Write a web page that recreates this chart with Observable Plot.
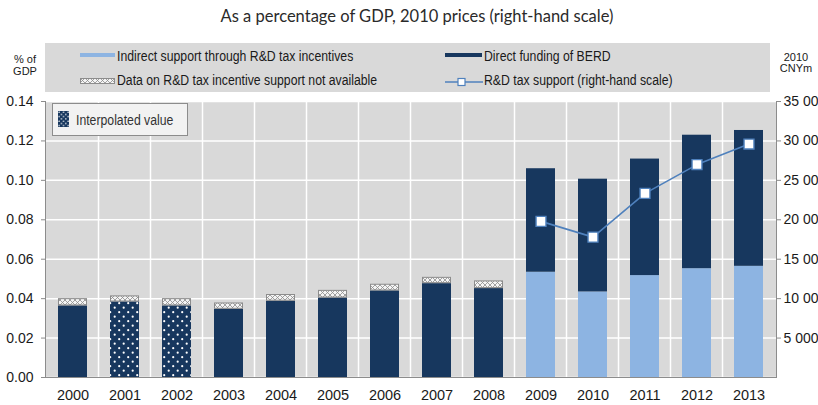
<!DOCTYPE html>
<html><head><meta charset="utf-8">
<script src="https://cdn.jsdelivr.net/npm/d3@7"></script>
<script src="https://cdn.jsdelivr.net/npm/@observablehq/plot@0.6"></script>
<style>
body{margin:0;background:#fff;width:818px;height:405px;overflow:hidden;font-family:"Liberation Sans",Arial,sans-serif;}
#title{height:40px;position:relative;}
#title span{position:absolute;left:417px;top:6px;transform:translateX(-50%);white-space:nowrap;font-family:Lato,"Open Sans",sans-serif;font-size:16.5px;color:#2a2a2a;}
#wrap{position:relative;width:818px;height:365px;}
.abs{position:absolute;white-space:nowrap;}
.lg{font-family:"Liberation Sans",Arial,sans-serif;font-size:14px;line-height:16px;color:#1a1a1a;transform:scaleX(0.875);transform-origin:0 50%;}
.unit{font-family:"Liberation Sans",Arial,sans-serif;font-size:11px;line-height:11px;color:#1a1a1a;text-align:center;}
</style></head><body>
<div id="title"><span>As a percentage of GDP, 2010 prices (right-hand scale)</span></div>
<div id="wrap">
  <div id="chart"></div>
  <div class="abs" style="left:45px;top:3px;width:725px;height:49px;background:#d9d9d9;"></div>
  <div class="abs unit" id="u1" style="left:5px;top:14px;width:40px;"></div>
  <div class="abs unit" id="u2" style="left:5px;top:25.5px;width:40px;"></div>
  <div class="abs unit" id="u3" style="left:777px;top:11.5px;width:38px;"></div>
  <div class="abs unit" id="u4" style="left:777px;top:23px;width:38px;"></div>
  <div class="abs" style="left:80px;top:12.5px;width:35px;height:4.5px;background:#8db4e2;"></div>
  <div class="abs lg" id="lg1" style="left:117px;top:7.5px;"></div>
  <svg class="abs" style="left:80px;top:37.5px;" width="35" height="6"><defs><pattern id="hatchL" width="5" height="5" patternUnits="userSpaceOnUse"><rect width="5" height="5" fill="#f4f4f4"/><path d="M0,0L5,5M5,0L0,5" stroke="#8c8c8c" stroke-width="0.8"/></pattern></defs><rect x="0.5" y="0.5" width="34" height="5" fill="url(#hatchL)" stroke="#8c8c8c"/></svg>
  <div class="abs lg" id="lg2" style="left:117px;top:31.5px;"></div>
  <div class="abs" style="left:445px;top:12.5px;width:37px;height:4.5px;background:#17375e;"></div>
  <div class="abs lg" id="lg3" style="left:484px;top:7.5px;"></div>
  <svg class="abs" style="left:445px;top:37px;" width="38" height="10"><line x1="0" x2="38" y1="5" y2="5" stroke="#4f81bd" stroke-width="1.5"/><rect x="13" y="1.5" width="7" height="7" fill="#fff" stroke="#4f81bd" stroke-width="1.2"/></svg>
  <div class="abs lg" id="lg4" style="left:484px;top:31.5px;"></div>
  <div class="abs" style="left:52px;top:63px;width:134px;height:31px;background:#f2f2f2;border:1px solid #8c8c8c;">
    <svg class="abs" style="left:5px;top:7px;" width="11" height="16"><defs><pattern id="dotsL" width="4.5" height="4.5" patternUnits="userSpaceOnUse"><rect width="4.5" height="4.5" fill="#17375e"/><circle cx="1.1" cy="1.1" r="0.75" fill="#fff"/><circle cx="3.35" cy="3.35" r="0.75" fill="#fff"/></pattern></defs><rect width="11" height="16" fill="url(#dotsL)"/></svg>
    <div class="abs lg" id="lg5" style="left:23px;top:7.5px;color:#333;"></div>
  </div>
</div>
<script>
// ---- data ----
const years = ["2000","2001","2002","2003","2004","2005","2006","2007","2008","2009","2010","2011","2012","2013"];
const indirectSupport = [null,null,null,null,null,null,null,null,null,0.0534,0.0434,0.0517,0.0552,0.0564];
const directFunding   = [0.0363,0.0383,0.0363,0.0346,0.0387,0.0403,0.0439,0.0476,0.0451,0.0525,0.0572,0.0591,0.0677,0.0689];
const notAvailable    = [0.0037,0.0031,0.0037,0.0032,0.0034,0.0039,0.0034,0.0032,0.0039,null,null,null,null,null];
const interpolated    = [false,true,true,false,false,false,false,false,false,false,false,false,false,false];
const taxSupportCNYm  = [null,null,null,null,null,null,null,null,null,19800,17800,23350,27000,29600];
const leftTicks = [0,0.02,0.04,0.06,0.08,0.10,0.12,0.14];
const rightTicks = [5000,10000,15000,20000,25000,30000,35000];
const rightMax = 35000, leftMax = 0.14;
const legendLabels = ["Indirect support through R&D tax incentives","Data on R&D tax incentive support not available","Direct funding of BERD","R&D tax support (right-hand scale)","Interpolated value"];
const unitLabels = ["% of","GDP","2010","CNYm"];

["lg1","lg2","lg3","lg4","lg5"].forEach((id,i)=>document.getElementById(id).textContent = legendLabels[i]);
["u1","u2","u3","u4"].forEach((id,i)=>document.getElementById(id).textContent = unitLabels[i]);

const k = leftMax / rightMax;
const rows = years.map((year,i)=>({year, indirect: indirectSupport[i], direct: directFunding[i], na: notAvailable[i], interp: interpolated[i], tax: taxSupportCNYm[i]}));
const base = d => d.indirect ?? 0;
const fmtR = d3.format(",");
const fmtRight = d => fmtR(Math.round(d / k)).replace(/,/g, " ");

const PAD = 0.44;
function bandGrid(index, scales, values, dimensions) {
  const x = scales.x;
  const bw = x.bandwidth ? x.bandwidth() : 0;
  const g = d3.create("svg:g");
  const y1 = dimensions.marginTop, y2 = dimensions.height - dimensions.marginBottom;
  for (let i = 0; i < years.length - 1; i++) {
    const xb = (x(years[i]) + x(years[i+1]) + bw) / 2;
    g.append("line").attr("x1", xb).attr("x2", xb).attr("y1", y1).attr("y2", y2)
      .attr("stroke", "#fff").attr("stroke-width", 1.5);
  }
  return g.node();
}

const chart = Plot.plot({
  width: 818, height: 365,
  marginTop: 61, marginBottom: 28, marginLeft: 45, marginRight: 42,
  style: {fontFamily: '"Liberation Sans", Arial, sans-serif', fontSize: "14px", color: "#1a1a1a", background: "transparent"},
  x: {domain: years, paddingInner: PAD, paddingOuter: PAD/2, label: null},
  y: {domain: [0, leftMax], label: null},
  marks: [
    Plot.frame({fill: "#d9d9d9", stroke: "none"}),
    Plot.gridY(leftTicks, {stroke: "#fff", strokeOpacity: 1, strokeWidth: 1.5}),
    bandGrid,
    Plot.barY(rows.filter(d => d.indirect != null), {x: "year", y1: 0, y2: "indirect", fill: "#8db4e2", inset: 0}),
    Plot.barY(rows.filter(d => !d.interp), {x: "year", y1: base, y2: d => base(d) + d.direct, fill: "#17375e", inset: 0}),
    Plot.barY(rows.filter(d => d.interp), {x: "year", y1: base, y2: d => base(d) + d.direct, fill: "url(#dots)", inset: 0}),
    Plot.barY(rows.filter(d => d.na != null), {x: "year", y1: "direct", y2: d => d.direct + d.na, fill: "url(#hatch)", stroke: "#8c8c8c", strokeWidth: 1, inset: 0.5}),
    Plot.lineY(rows.filter(d => d.tax != null), {x: "year", y: d => d.tax * k, stroke: "#4f81bd", strokeWidth: 1.6}),
    Plot.dot(rows.filter(d => d.tax != null), {x: "year", y: d => d.tax * k, symbol: "square", r: 5.6, fill: "#fff", stroke: "#4f81bd", strokeWidth: 1.4}),
    Plot.frame({anchor: "left", stroke: "#8c8c8c"}),
    Plot.frame({anchor: "right", stroke: "#8c8c8c"}),
    Plot.frame({anchor: "bottom", stroke: "#8c8c8c"}),
    Plot.axisY(leftTicks, {anchor: "left", tickFormat: ".2f", tickSize: 4, tickPadding: 8, stroke: "#8c8c8c", label: null, fontSize: 14}),
    Plot.axisY(rightTicks.map(v => v * k), {anchor: "right", tickFormat: fmtRight, tickSize: 4, tickPadding: 3, stroke: "#8c8c8c", label: null, fontSize: 14}),
    Plot.axisX({tickSize: 0, tickPadding: 12, label: null, fontSize: 14.5})
  ]
});

const defs = d3.select(chart).insert("defs", ":first-child");
const hp = defs.append("pattern").attr("id", "hatch").attr("width", 5).attr("height", 5).attr("patternUnits", "userSpaceOnUse");
hp.append("rect").attr("width", 5).attr("height", 5).attr("fill", "#f4f4f4");
hp.append("path").attr("d", "M0,0L5,5M5,0L0,5").attr("stroke", "#8c8c8c").attr("stroke-width", 0.8);
const dp = defs.append("pattern").attr("id", "dots").attr("width", 9).attr("height", 9).attr("patternUnits", "userSpaceOnUse");
dp.append("rect").attr("width", 9).attr("height", 9).attr("fill", "#17375e");
dp.append("circle").attr("cx", 2.2).attr("cy", 2.2).attr("r", 1.1).attr("fill", "#fff");
dp.append("circle").attr("cx", 6.7).attr("cy", 6.7).attr("r", 1.1).attr("fill", "#fff");

document.getElementById("chart").appendChild(chart);
</script>
</body></html>
